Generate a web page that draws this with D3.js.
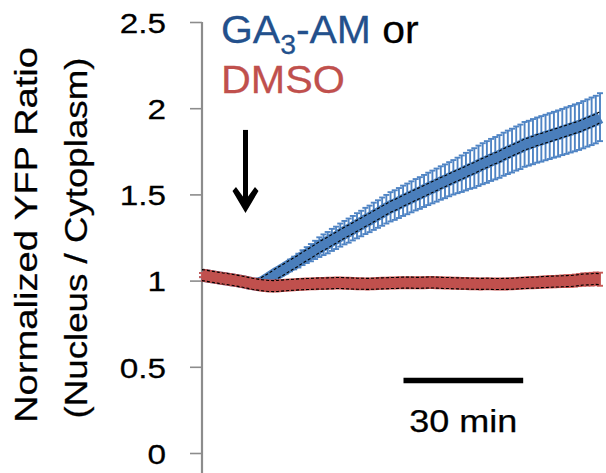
<!DOCTYPE html>
<html><head><meta charset="utf-8">
<script src="https://cdn.jsdelivr.net/npm/d3@7"></script>
<style>html,body{margin:0;padding:0;background:#fff;} svg{display:block;}</style>
</head><body>
<svg id="chart" width="606" height="473"></svg>
<script>
// ---------------- data ----------------
const frameMinutes = 1.05;   // sampling interval (min)
const blueMean = [
 1.032,1.028,1.024,1.020,1.016,1.012,1.009,1.005,1.001,0.997,0.992,0.987,0.982,0.978,
 0.984,0.997,1.012,1.028,1.044,1.058,1.072,1.088,1.102,1.116,1.133,1.148,1.162,1.178,1.194,1.208,
 1.220,1.236,1.248,1.264,1.278,1.290,1.304,1.318,1.331,1.346,1.358,1.373,1.386,1.400,1.414,1.428,
 1.438,1.450,1.463,1.474,1.486,1.498,1.508,1.520,1.532,1.543,1.554,1.566,1.576,1.588,1.599,
 1.610,1.620,1.632,1.644,1.653,1.666,1.678,1.688,1.700,1.710,1.720,1.733,1.744,1.754,1.766,1.776,1.790,
 1.797,1.806,1.815,1.822,1.830,1.838,1.846,1.853,1.862,1.870,1.878,1.886,1.894,1.904,1.914,1.924,1.934,1.948
];
const blueErr = [
 0.012,0.012,0.012,0.013,0.012,0.012,0.013,0.012,0.012,0.013,0.012,0.012,0.013,0.013,
 0.014,0.016,0.019,0.022,0.025,0.028,0.031,0.034,0.037,0.040,0.043,0.046,0.050,0.053,0.057,0.060,
 0.062,0.064,0.065,0.067,0.068,0.070,0.071,0.073,0.074,0.076,0.077,0.079,0.080,0.082,0.083,0.085,
 0.086,0.087,0.088,0.089,0.090,0.091,0.092,0.093,0.094,0.095,0.096,0.097,0.098,0.099,0.100,
 0.103,0.106,0.109,0.112,0.115,0.117,0.119,0.121,0.122,0.123,0.124,0.125,0.126,0.127,0.128,0.129,0.130,
 0.130,0.131,0.131,0.132,0.132,0.133,0.133,0.134,0.134,0.135,0.135,0.136,0.136,0.137,0.137,0.138,0.138,0.139
];
const redMean = [
 1.032,1.028,1.024,1.020,1.016,1.012,1.009,1.005,1.001,0.997,0.992,0.987,0.982,0.978,
 0.974,0.971,0.969,0.968,0.969,0.971,0.973,0.975,0.976,0.978,0.979,0.980,0.981,0.982,0.983,0.983,0.984,
 0.985,0.986,0.986,0.985,0.984,0.983,0.982,0.982,0.981,0.981,
 0.982,0.983,0.984,0.985,0.986,0.986,0.987,0.988,0.988,0.988,
 0.987,0.987,0.988,0.989,0.989,0.988,0.987,0.986,0.986,0.985,
 0.984,0.983,0.983,0.982,0.982,0.981,0.981,0.982,0.981,0.980,
 0.980,0.981,0.981,0.982,0.983,0.985,0.986,0.987,0.988,0.989,
 0.991,0.992,0.993,0.994,0.995,0.996,0.997,0.998,1.000,1.003,
 1.006,1.007,1.008,1.010,1.008
];
const redErr = [
 0.012,0.012,0.012,0.012,0.012,0.012,0.012,0.012,0.012,0.012,0.012,0.012,0.012,0.012,
 0.012,0.013,0.013,0.013,0.014,0.014,0.014,0.014,0.015,0.015,0.015,0.015,0.015,0.016,0.016,0.016,0.016,
 0.016,0.016,0.017,0.017,0.017,0.017,0.017,0.018,0.018,0.018,
 0.018,0.018,0.019,0.019,0.019,0.019,0.019,0.020,0.020,0.020,
 0.020,0.020,0.021,0.021,0.021,0.021,0.022,0.022,0.022,0.022,
 0.023,0.023,0.023,0.024,0.024,0.024,0.025,0.025,0.025,0.026,
 0.026,0.026,0.027,0.027,0.028,0.028,0.029,0.029,0.030,0.030,
 0.031,0.031,0.032,0.032,0.033,0.033,0.034,0.034,0.035,0.035,
 0.036,0.036,0.037,0.037,0.038
];
const yTicks = [0, 0.5, 1, 1.5, 2, 2.5];
const yTickLabels = ["0", "0.5", "1", "1.5", "2", "2.5"];
const yLabelLines = ["Normalized YFP Ratio", "(Nucleus / Cytoplasm)"];
const seriesNames = ["GA3-AM", "DMSO"];
const scaleBarMinutes = 30;
const scaleBarLabel = "30 min";
const treatmentMinute = 10.9;   // arrow (compound addition)

// ---------------- chart ----------------
const W = 606, H = 473;
const font = "'Liberation Sans', Arial, sans-serif";
const times = blueMean.map((d, i) => i * frameMinutes);
const x = d3.scaleLinear().domain([0, times[times.length - 1]]).range([202, 600]);
const y = d3.scaleLinear().domain([0, 2.5]).range([453, 22]);
const svg = d3.select("#chart");

// y axis
const gAxis = svg.append("g").attr("transform", "translate(202,0)")
  .call(d3.axisLeft(y).tickValues(yTicks).tickFormat((d, i) => yTickLabels[i]).tickSize(12).tickSizeOuter(0));
gAxis.select(".domain").remove();
gAxis.selectAll(".tick line").attr("stroke", "#8c8c8c").attr("stroke-width", 1.6);
gAxis.selectAll(".tick text")
  .attr("x", null).attr("dy", "0.36em")
  .attr("transform", "translate(-36,0) scale(1.17,1)")
  .attr("font-family", font).attr("font-size", 28.5).attr("fill", "#000")
  .attr("stroke", "#000").attr("stroke-width", 0.25).attr("text-anchor", "end");
svg.append("line").attr("x1", 202).attr("x2", 202).attr("y1", y(2.5)).attr("y2", H)
  .attr("stroke", "#8c8c8c").attr("stroke-width", 2.2);

// y label
yLabelLines.forEach((t, i) => {
  svg.append("text")
    .attr("transform", `translate(${[37, 87][i]},${[235, 238][i]}) rotate(-90)`)
    .attr("text-anchor", "middle").attr("font-family", font).attr("font-size", 31)
    .attr("textLength", [376, 361][i]).attr("lengthAdjust", "spacingAndGlyphs")
    .attr("fill", "#000").attr("stroke", "#000").attr("stroke-width", 0.25).text(t);
});

function drawSeries(mean, err, lineColor, barColor) {
  const data = mean.map((m, i) => ({ t: times[i], m, e: err[i] }));
  const g = svg.append("g");
  const eb = g.selectAll("g.eb").data(data).join("g").attr("class", "eb")
    .attr("stroke", barColor).attr("stroke-width", 1.9);
  eb.append("line").attr("x1", d => x(d.t)).attr("x2", d => x(d.t))
    .attr("y1", d => y(d.m + d.e)).attr("y2", d => y(d.m - d.e));
  eb.append("line").attr("x1", d => x(d.t) - 3).attr("x2", d => x(d.t) + 3)
    .attr("y1", d => y(d.m + d.e)).attr("y2", d => y(d.m + d.e));
  eb.append("line").attr("x1", d => x(d.t) - 3).attr("x2", d => x(d.t) + 3)
    .attr("y1", d => y(d.m - d.e)).attr("y2", d => y(d.m - d.e));
  g.append("path").datum(data)
    .attr("d", d3.line().x(d => x(d.t)).y(d => y(d.m)))
    .attr("fill", "none").attr("stroke", lineColor).attr("stroke-width", 13)
    .attr("stroke-linejoin", "round");
  [-5.5, 5.5].forEach(off => {
    g.append("path").datum(data)
      .attr("d", d3.line().x(d => x(d.t)).y(d => y(d.m) + off))
      .attr("fill", "none").attr("stroke", "#000").attr("stroke-width", 1.1)
      .attr("stroke-dasharray", "3,2");
  });
}
drawSeries(blueMean, blueErr, "#4A7EBB", "#4F84C4");
drawSeries(redMean, redErr, "#C0504D", "#C65A57");

// arrow marking treatment
const ax = x(treatmentMinute);
svg.append("line").attr("x1", ax).attr("x2", ax).attr("y1", y(1.874)).attr("y2", y(1.45))
  .attr("stroke", "#000").attr("stroke-width", 5);
const tipY = y(1.392);
svg.append("path")
  .attr("d", `M${ax},${tipY} L${ax - 13},${tipY - 22} L${ax - 9.5},${tipY - 26} L${ax},${tipY - 13} L${ax + 9.5},${tipY - 26} L${ax + 13},${tipY - 22} Z`)
  .attr("fill", "#000");

// scale bar
const sb0 = 50.5;
svg.append("line").attr("x1", x(sb0)).attr("x2", x(sb0 + scaleBarMinutes))
  .attr("y1", y(0.42)).attr("y2", y(0.42)).attr("stroke", "#000").attr("stroke-width", 5.5);
svg.append("text").attr("x", (x(sb0) + x(sb0 + scaleBarMinutes)) / 2).attr("y", 432)
  .attr("text-anchor", "middle").attr("font-family", font).attr("font-size", 31)
  .attr("textLength", 108).attr("lengthAdjust", "spacingAndGlyphs").attr("fill", "#000")
  .attr("stroke", "#000").attr("stroke-width", 0.25)
  .text(scaleBarLabel);

// legend
const leg1 = svg.append("text").attr("transform", "translate(221,43) scale(1.05,1)")
  .attr("font-family", font).attr("font-size", 39).attr("stroke-width", 0.25);
leg1.append("tspan").attr("fill", "#23508C").attr("stroke", "#23508C").text(seriesNames[0].slice(0, 2));
leg1.append("tspan").attr("fill", "#23508C").attr("stroke", "#23508C").attr("font-size", 27).attr("dy", 11).text(seriesNames[0].slice(2, 3));
leg1.append("tspan").attr("fill", "#23508C").attr("stroke", "#23508C").attr("dy", -11).text(seriesNames[0].slice(3));
leg1.append("tspan").attr("fill", "#000").attr("stroke", "#000").text(" or");
svg.append("text").attr("transform", "translate(221,93) scale(1.06,1)")
  .attr("font-family", font).attr("font-size", 39).attr("fill", "#C0504D")
  .attr("stroke", "#C0504D").attr("stroke-width", 0.25).text(seriesNames[1]);
</script>
</body></html>
